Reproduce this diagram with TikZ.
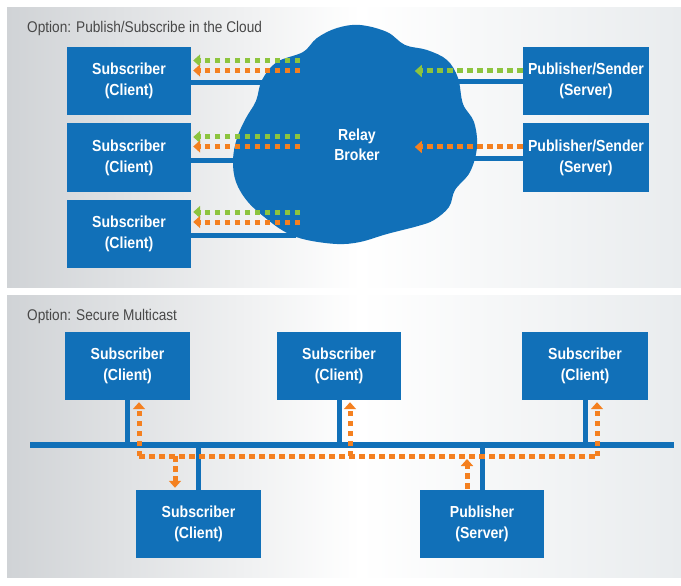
\documentclass[tikz,border=0pt]{standalone}
\usepackage{fontspec}
\setmainfont{Liberation Sans}
\newfontfamily\boxfont[FakeStretch=0.88]{Liberation Sans}
\usetikzlibrary{arrows.meta,calc}
\definecolor{cblue}{RGB}{17,112,184}
\definecolor{corange}{RGB}{244,128,32}
\definecolor{cgreen}{RGB}{141,196,62}
\definecolor{ctitle}{RGB}{72,72,72}
\definecolor{pgrayL}{RGB}{208,211,214}
\definecolor{pgrayR}{RGB}{233,236,238}
\tikzset{
  boxn/.style={fill=cblue, minimum width=124pt, minimum height=68pt, inner sep=0pt,
    text=white, align=center, font=\boxfont\bfseries\fontsize{16}{21}\selectfont},
  titlen/.style={anchor=base west, inner sep=0pt, text=ctitle,
    font=\boxfont\fontsize{15.5}{18}\selectfont},
  bline/.style={draw=cblue, line width=5pt},
  dashline/.style={line width=5pt, dash pattern=on 5.5pt off 4.5pt},
  garrow/.style={dashline, draw=cgreen, -{Triangle[width=12pt,length=7pt]}},
  oarrow/.style={dashline, draw=corange, -{Triangle[width=12pt,length=7pt]}},
  oline/.style={dashline, draw=corange},
}
\begin{document}
\begin{tikzpicture}[x=1pt,y=-1pt]
\useasboundingbox (0,0) rectangle (681,586);
% panels
\shade[left color=pgrayL, right color=white] (7,8) rectangle (360,287);
\shade[left color=white, right color=pgrayR] (359.5,8) rectangle (681,287);
\shade[left color=pgrayL, right color=white] (7,295) rectangle (360,577);
\shade[left color=white, right color=pgrayR] (359.5,295) rectangle (681,577);
% titles
\node[titlen] (t1) at (27,33) {Option: Publish/Subscribe in the Cloud};
\node[titlen] (t2) at (27,320) {Option: Secure Multicast};
% top boxes
\node[boxn] (sub1) at (129,81) {Subscriber\\(Client)};
\node[boxn] (sub2) at (129,157.5) {Subscriber\\(Client)};
\node[boxn] (sub3) at (129,233.5) {Subscriber\\(Client)};
\node[boxn, minimum width=126pt] (pub1) at (586,81) {Publisher/Sender\\(Server)};
\node[boxn, minimum width=126pt] (pub2) at (586,157.5) {Publisher/Sender\\(Server)};
% blue links to cloud
\draw[bline] ($(sub1.east)+(0,2)$) -- ++(110,0);
\draw[bline] ($(sub2.east)+(0,2.5)$) -- ++(90,0);
\draw[bline] ($(sub3.east)+(0,1.5)$) -- ++(105,0);
\draw[bline] ($(pub1.west)+(0,1)$) -- ++(-80,0);
\draw[bline] ($(pub2.west)+(0,1)$) -- ++(-70,0);
% cloud
\fill[cblue] plot[smooth cycle, tension=0.6] coordinates {
  (233,160) (237,138) (246,118) (256,101) (262,80) (277,62) (303,52)
  (317,38) (337,28) (360,25) (387,32) (405,45) (427,50) (447,60)
  (458,78) (463,104) (474,122) (477,147) (470,172) (455,190)
  (449,207) (434,220) (418,226) (387,234) (360,242) (337,244)
  (307,240) (287,233) (268,220) (248,202) (236,182)};
\node[text=white, align=center, inner sep=0pt, font=\boxfont\bfseries\fontsize{16}{20}\selectfont] (broker) at (357,145) {Relay\\Broker};
% top arrows
\draw[garrow] ($(sub1.east)+(109,-20.5)$) -- ($(sub1.east)+(2,-20.5)$);
\draw[oarrow] ($(sub1.east)+(109,-10.5)$) -- ($(sub1.east)+(2,-10.5)$);
\draw[garrow] ($(sub2.east)+(109,-20.5)$) -- ($(sub2.east)+(2,-20.5)$);
\draw[oarrow] ($(sub2.east)+(109,-11)$) -- ($(sub2.east)+(2,-11)$);
\draw[garrow] ($(sub3.east)+(109,-21.5)$) -- ($(sub3.east)+(2,-21.5)$);
\draw[oarrow] ($(sub3.east)+(109,-11.5)$) -- ($(sub3.east)+(2,-11.5)$);
\draw[garrow] ($(pub1.west)+(0,-10)$) -- ($(pub1.west)+(-108,-10)$);
\draw[oarrow] ($(pub2.west)+(0,-10.5)$) -- ($(pub2.west)+(-108,-10.5)$);
% bottom boxes
\node[boxn, minimum width=125pt] (sA) at (127.5,366) {Subscriber\\(Client)};
\node[boxn] (sB) at (339,366) {Subscriber\\(Client)};
\node[boxn, minimum width=126pt] (sC) at (585,366) {Subscriber\\(Client)};
\node[boxn, minimum width=125pt] (sD) at (198.5,524) {Subscriber\\(Client)};
\node[boxn] (pubS) at (482,524) {Publisher\\(Server)};
% bus
\coordinate (busL) at (30,445);
\coordinate (busR) at (674,445);
\draw[draw=cblue, line width=5.5pt] (busL) -- (busR);
\draw[bline] (sA.south) -- (sA.south |- busL);
\draw[bline] (sB.south) -- (sB.south |- busL);
\draw[bline] (sC.south) -- (sC.south |- busL);
\draw[bline] (sD.north) -- (sD.north |- busL);
\draw[bline] (pubS.north) -- (pubS.north |- busL);
% orange multicast path
\coordinate (oL) at (139,456);
\coordinate (oR) at (598,456);
\draw[oline] (oL) -- (oR);
\draw[oarrow] (oL) -- ($(sA.south)+(11.5,2)$);
\draw[oarrow] ($(sB.south |- oL)+(11,0)$) -- ($(sB.south)+(11,2)$);
\draw[oarrow] ($(sC.south |- oL)+(12,0)$) -- ($(sC.south)+(12,2)$);
\draw[oarrow] ($(sD.north |- oL)+(-23.5,0)$) -- ($(sD.north)+(-23.5,-2)$);
\draw[oarrow] ($(pubS.north)+(-15,-1)$) -- ($(pubS.north |- oL)+(-15,3)$);
\end{tikzpicture}
\end{document}
